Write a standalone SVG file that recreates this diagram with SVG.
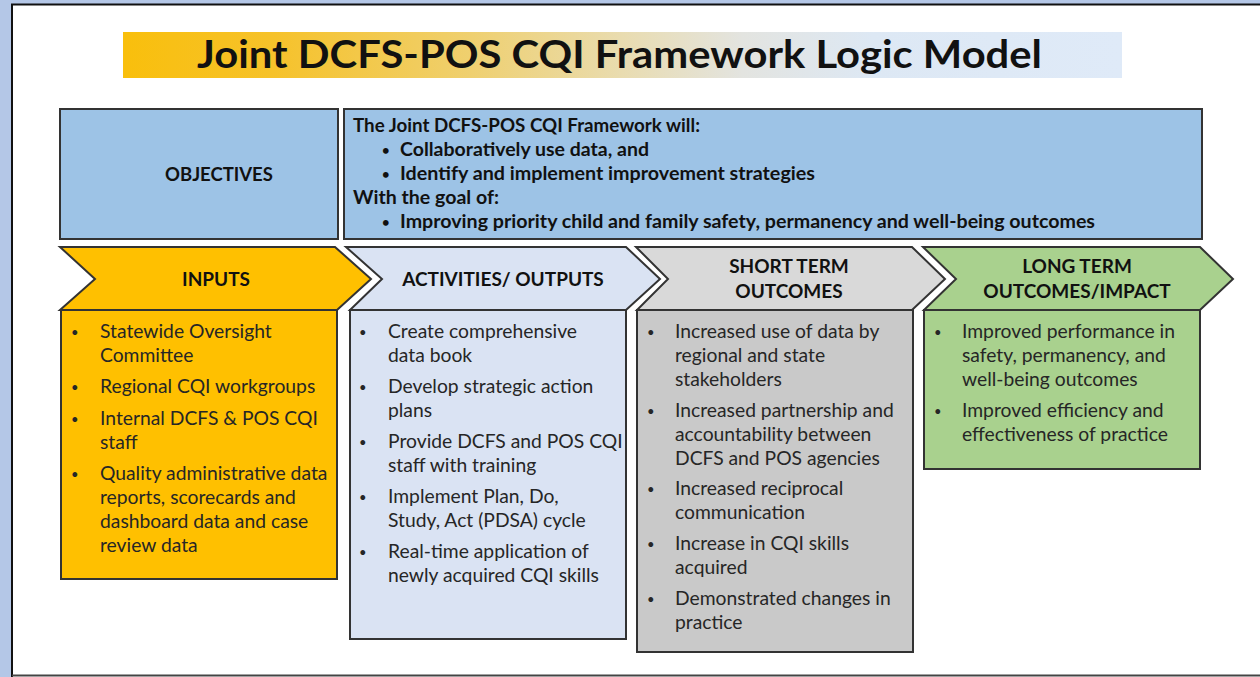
<svg xmlns="http://www.w3.org/2000/svg" width="1260" height="677" viewBox="0 0 1260 677">
<defs>
<linearGradient id="titleGrad" x1="0" y1="0" x2="1" y2="0">
<stop offset="0" stop-color="#f9bf0c"/>
<stop offset="0.15" stop-color="#f6c22a"/>
<stop offset="0.35" stop-color="#efd070"/>
<stop offset="0.5" stop-color="#e9dcb0"/>
<stop offset="0.62" stop-color="#e3e4e0"/>
<stop offset="0.75" stop-color="#dde8f4"/>
<stop offset="1" stop-color="#dfeaf8"/>
</linearGradient>
<style>
.hd{font-family:Lato,"Liberation Sans",sans-serif;font-weight:bold;fill:#111;}
.bd{font-family:Lato,"Liberation Sans",sans-serif;font-size:19.3px;fill:#262626;}
.ob{font-family:Lato,"Liberation Sans",sans-serif;font-weight:bold;font-size:18px;fill:#111;}
.bl{font-size:13px;}
.box{stroke:#333;stroke-width:2;}
</style>
</defs>
<rect x="0" y="0" width="1260" height="677" fill="#ffffff"/>
<rect x="0" y="0" width="1260" height="4" fill="#b4c7e7"/>
<rect x="0" y="0" width="11" height="677" fill="#b4c7e7"/>
<path d="M12,677 L12,4.5 L1260,4.5" fill="none" stroke="#111" stroke-width="2"/>
<line x1="12" y1="675.5" x2="1260" y2="675.5" stroke="#444" stroke-width="2"/>

<g id="title">
<rect x="123" y="32" width="999" height="46" fill="url(#titleGrad)"/>
<text x="197" y="68" class="hd" font-size="39" textLength="845" lengthAdjust="spacingAndGlyphs">Joint DCFS-POS CQI Framework Logic Model</text>
</g>

<g id="objectives-label">
<rect x="60" y="109" width="278" height="130" fill="#9dc3e6" class="box"/>
<text x="219" y="181" class="hd" font-size="18.5" text-anchor="middle">OBJECTIVES</text>
</g>

<g id="objectives-text">
<rect x="344" y="109" width="858" height="130" fill="#9dc3e6" class="box"/>
<text x="353" y="132" class="ob" textLength="347" lengthAdjust="spacingAndGlyphs">The Joint DCFS-POS CQI Framework will:</text>
<text x="382" y="155" class="ob bl">•</text>
<text x="400" y="156" class="ob" textLength="249" lengthAdjust="spacingAndGlyphs">Collaboratively use data, and</text>
<text x="382" y="179" class="ob bl">•</text>
<text x="400" y="180" class="ob" textLength="415" lengthAdjust="spacingAndGlyphs">Identify and implement improvement strategies</text>
<text x="353" y="204" class="ob" textLength="146" lengthAdjust="spacingAndGlyphs">With the goal of:</text>
<text x="382" y="227" class="ob bl">•</text>
<text x="400" y="228" class="ob" textLength="695" lengthAdjust="spacingAndGlyphs">Improving priority child and family safety, permanency and well-being outcomes</text>
</g>

<g id="inputs">
<path d="M60,247 L335,247 L371,279 L337,310 L60,310 L95,279 Z" fill="#ffc000" class="box"/>
<text x="216" y="286" class="hd" font-size="19" text-anchor="middle">INPUTS</text>
<rect x="61" y="310" width="276" height="269" fill="#ffc000" class="box"/>
<text class="bd">
<tspan x="71" y="337" class="bl">•</tspan><tspan x="100" y="338">Statewide Oversight</tspan>
<tspan x="100" y="362">Committee</tspan>
<tspan x="71" y="392" class="bl">•</tspan><tspan x="100" y="393">Regional CQI workgroups</tspan>
<tspan x="71" y="424" class="bl">•</tspan><tspan x="100" y="425">Internal DCFS &amp; POS  CQI</tspan>
<tspan x="100" y="449">staff</tspan>
<tspan x="71" y="479" class="bl">•</tspan><tspan x="100" y="480">Quality administrative data</tspan>
<tspan x="100" y="504">reports, scorecards and</tspan>
<tspan x="100" y="528">dashboard data and case</tspan>
<tspan x="100" y="552">review data</tspan>
</text>
</g>

<g id="activities">
<path d="M346,247 L626,247 L660,279 L626,310 L350,310 L382,279 Z" fill="#dae3f3" class="box"/>
<text x="503" y="286" class="hd" font-size="19" text-anchor="middle">ACTIVITIES/ OUTPUTS</text>
<rect x="350" y="310" width="276" height="329" fill="#dae3f3" class="box"/>
<text class="bd">
<tspan x="359" y="337" class="bl">•</tspan><tspan x="388" y="338">Create comprehensive</tspan>
<tspan x="388" y="362">data book</tspan>
<tspan x="359" y="392" class="bl">•</tspan><tspan x="388" y="393">Develop strategic action</tspan>
<tspan x="388" y="417">plans</tspan>
<tspan x="359" y="447" class="bl">•</tspan><tspan x="388" y="448">Provide DCFS and POS CQI</tspan>
<tspan x="388" y="472">staff with training</tspan>
<tspan x="359" y="502" class="bl">•</tspan><tspan x="388" y="503">Implement Plan, Do,</tspan>
<tspan x="388" y="527">Study, Act (PDSA) cycle</tspan>
<tspan x="359" y="557" class="bl">•</tspan><tspan x="388" y="558">Real-time application of</tspan>
<tspan x="388" y="582">newly acquired CQI skills</tspan>
</text>
</g>

<g id="short-term">
<path d="M636,247 L912,247 L945,279 L912,310 L637,310 L668,279 Z" fill="#d9d9d9" class="box"/>
<text x="789" y="273" class="hd" font-size="19" text-anchor="middle">SHORT TERM</text>
<text x="789" y="298" class="hd" font-size="19" text-anchor="middle">OUTCOMES</text>
<rect x="637" y="310" width="276" height="342" fill="#c9c9c9" class="box"/>
<text class="bd">
<tspan x="647" y="337" class="bl">•</tspan><tspan x="675" y="338">Increased use of data by</tspan>
<tspan x="675" y="362">regional and state</tspan>
<tspan x="675" y="386">stakeholders</tspan>
<tspan x="647" y="416" class="bl">•</tspan><tspan x="675" y="417">Increased partnership and</tspan>
<tspan x="675" y="441">accountability between</tspan>
<tspan x="675" y="465">DCFS and POS agencies</tspan>
<tspan x="647" y="494" class="bl">•</tspan><tspan x="675" y="495">Increased reciprocal</tspan>
<tspan x="675" y="519">communication</tspan>
<tspan x="647" y="549" class="bl">•</tspan><tspan x="675" y="550">Increase in CQI skills</tspan>
<tspan x="675" y="574">acquired</tspan>
<tspan x="647" y="604" class="bl">•</tspan><tspan x="675" y="605">Demonstrated changes in</tspan>
<tspan x="675" y="629">practice</tspan>
</text>
</g>

<g id="long-term">
<path d="M923,247 L1200,247 L1233,279 L1200,310 L924,310 L956,279 Z" fill="#a9d18e" class="box"/>
<text x="1077" y="273" class="hd" font-size="19" text-anchor="middle">LONG TERM</text>
<text x="1077" y="298" class="hd" font-size="19" text-anchor="middle">OUTCOMES/IMPACT</text>
<rect x="924" y="310" width="276" height="159" fill="#a9d18e" class="box"/>
<text class="bd">
<tspan x="934" y="337" class="bl">•</tspan><tspan x="962" y="338">Improved performance in</tspan>
<tspan x="962" y="362">safety, permanency, and</tspan>
<tspan x="962" y="386">well-being outcomes</tspan>
<tspan x="934" y="416" class="bl">•</tspan><tspan x="962" y="417">Improved efficiency and</tspan>
<tspan x="962" y="441">effectiveness of practice</tspan>
</text>
</g>

<g id="connectors"></g>
</svg>
